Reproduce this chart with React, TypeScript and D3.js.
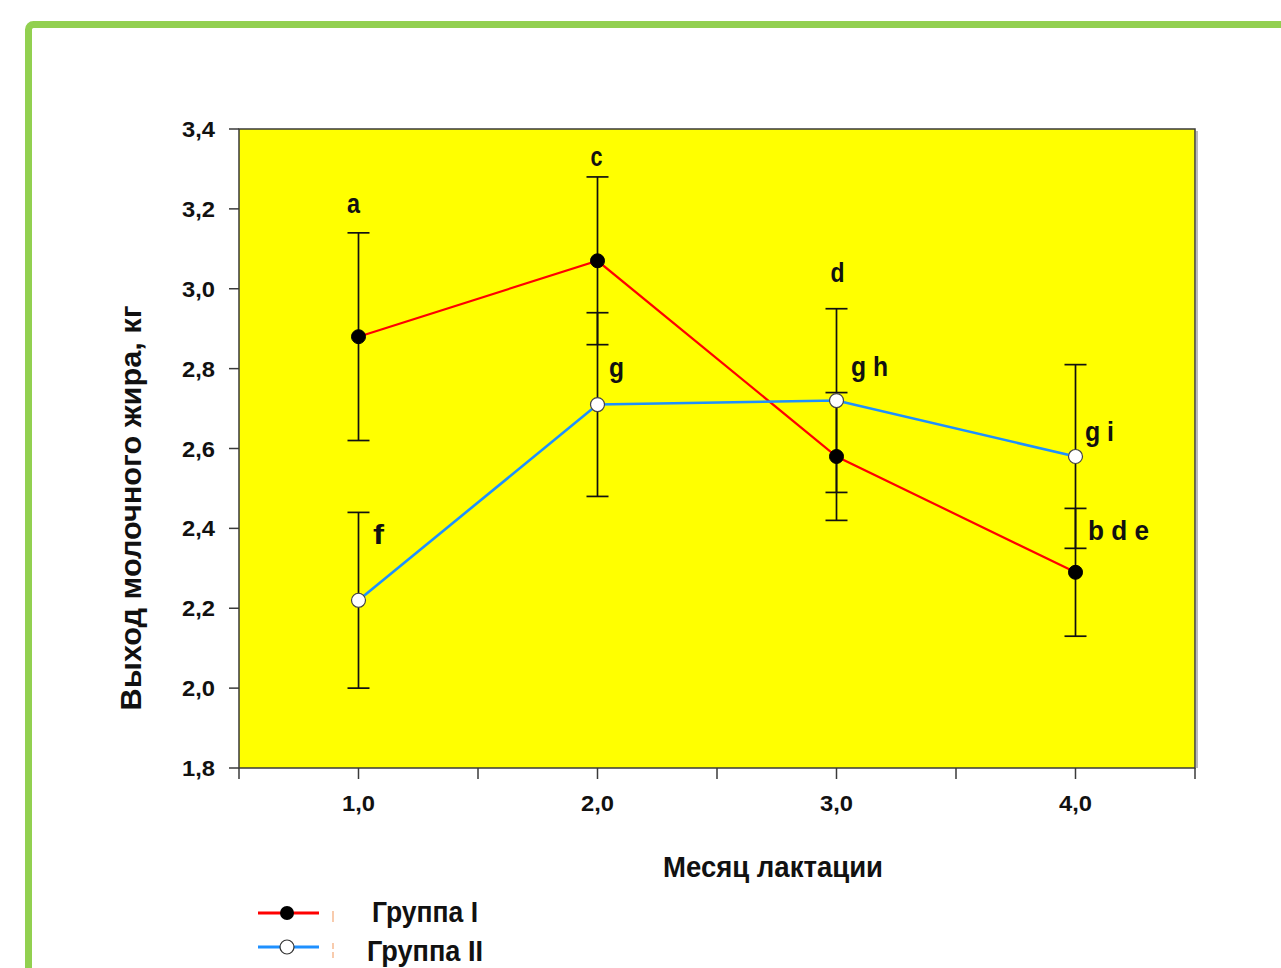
import React from "react";
import * as d3 from "d3";

const months = [1, 2, 3, 4];
const group1 = [2.88, 3.07, 2.58, 2.29];
const group1Err = [0.26, 0.21, 0.16, 0.16];
const group2 = [2.22, 2.71, 2.72, 2.58];
const group2Err = [0.22, 0.23, 0.23, 0.23];
const yTicks = [1.8, 2.0, 2.2, 2.4, 2.6, 2.8, 3.0, 3.2, 3.4];
const xMajorTicks = [1, 2, 3, 4];
const xAllTicks = [0.5, 1, 1.5, 2, 2.5, 3, 3.5, 4, 4.5];
const sigLetters = ["a", "c", "d", "b d e", "f", "g", "g h", "g i"];
const sigMonths = [1, 2, 3, 4, 1, 2, 3, 4];
const seriesNames = ["Группа I", "Группа II"];
const yTitle = "Выход молочного жира, кг";
const xTitle = "Месяц лактации";

const fmt = (v: number) => d3.format(".1f")(v).replace(".", ",");

export default function App() {
  const W = 1281, H = 968;
  const x = d3.scaleLinear().domain([0.5, 4.5]).range([239, 1195]);
  const y = d3.scaleLinear().domain([1.8, 3.4]).range([768, 129]);
  const line = d3.line<number>().x((_, i) => x(months[i])).y((d) => y(d));
  const font = "'Liberation Sans', Arial, sans-serif";
  // label placement offsets (px) relative to the month position / point
  const sigPos = [
    { dx: -5, ref: () => y(group1[0] + group1Err[0]) - 20 },
    { dx: -1, ref: () => y(group1[1] + group1Err[1]) - 11 },
    { dx: 1, ref: () => y(group2[2] + group2Err[2]) - 27 },
    { dx: 43, ref: () => y(group2[3] - group2Err[3]) - 8 },
    { dx: 20, ref: () => y(group2[0] + group2Err[0]) + 32 },
    { dx: 19, ref: () => y(group2[1]) - 28 },
    { dx: 33, ref: () => y(group2[2]) - 25 },
    { dx: 24, ref: () => y(group2[3]) - 15 },
  ];
  const sigWidths = [13, 12, 14, 61, 11, 15, 37, 29];

  const errBars = (vals: number[], errs: number[]) =>
    vals.map((v, i) => {
      const cx = x(months[i]);
      const t = y(v + errs[i]);
      const b = y(v - errs[i]);
      return (
        <g key={i} stroke="#111" strokeWidth={1.7}>
          <line x1={cx} x2={cx} y1={t} y2={b} />
          <line x1={cx - 11} x2={cx + 11} y1={t} y2={t} />
          <line x1={cx - 11} x2={cx + 11} y1={b} y2={b} />
        </g>
      );
    });

  return (
    <svg
      width={W}
      height={H}
      style={{ position: "absolute", left: 0, top: 0, display: "block", background: "#fff" }}
    >
      <rect x={0} y={0} width={W} height={H} fill="#fff" />
      {/* green frame */}
      <rect x={28.5} y={24.5} width={1400} height={1100} rx={5} fill="none" stroke="#92D050" strokeWidth={7} />

      {/* plot area */}
      <rect x={x(0.5)} y={y(3.4)} width={x(4.5) - x(0.5)} height={y(1.8) - y(3.4)} fill="#FFFF00" />
      <line x1={x(4.5) + 2} x2={x(4.5) + 2} y1={y(3.4) + 2} y2={y(1.8)} stroke="#bbb" strokeWidth={2} />
      <rect x={x(0.5)} y={y(3.4)} width={x(4.5) - x(0.5)} height={y(1.8) - y(3.4)} fill="none" stroke="#3a3a3a" strokeWidth={1.5} />

      {/* y axis */}
      {yTicks.map((t) => (
        <g key={t}>
          <line x1={x(0.5) - 10} x2={x(0.5)} y1={y(t)} y2={y(t)} stroke="#3a3a3a" strokeWidth={1.5} />
          <text x={215} y={y(t) + 8} textAnchor="end" fontFamily={font} fontWeight="bold" fontSize={22} fill="#111"
            textLength={33} lengthAdjust="spacingAndGlyphs">
            {fmt(t)}
          </text>
        </g>
      ))}
      {/* x axis */}
      {xAllTicks.map((t) => (
        <line key={t} x1={x(t)} x2={x(t)} y1={y(1.8)} y2={y(1.8) + 11} stroke="#3a3a3a" strokeWidth={1.5} />
      ))}
      {xMajorTicks.map((t) => (
        <text key={t} x={x(t)} y={811} textAnchor="middle" fontFamily={font} fontWeight="bold" fontSize={22} fill="#111"
          textLength={33} lengthAdjust="spacingAndGlyphs">
          {fmt(t)}
        </text>
      ))}

      {/* titles */}
      <text x={773} y={877} textAnchor="middle" fontFamily={font} fontWeight="bold" fontSize={30} fill="#111"
        textLength={220} lengthAdjust="spacingAndGlyphs">
        {xTitle}
      </text>
      <text transform="translate(141,508) rotate(-90)" textAnchor="middle" fontFamily={font} fontWeight="bold" fontSize={30} fill="#111"
        textLength={405} lengthAdjust="spacingAndGlyphs">
        {yTitle}
      </text>

      {/* lines */}
      <path d={line(group1) || ""} fill="none" stroke="#FF0000" strokeWidth={2.2} />
      <path d={line(group2) || ""} fill="none" stroke="#1E90FF" strokeWidth={2.6} />

      {/* error bars */}
      {errBars(group1, group1Err)}
      {errBars(group2, group2Err)}

      {/* markers */}
      {group1.map((v, i) => (
        <circle key={"a" + i} cx={x(months[i])} cy={y(v)} r={7} fill="#000" stroke="#000" strokeWidth={1} />
      ))}
      {group2.map((v, i) => (
        <circle key={"b" + i} cx={x(months[i])} cy={y(v)} r={7} fill="#fff" stroke="#444" strokeWidth={1.2} />
      ))}

      {/* significance letters */}
      {sigLetters.map((s, i) => (
        <text key={s + i} x={x(sigMonths[i]) + sigPos[i].dx} y={sigPos[i].ref()} textAnchor="middle"
          fontFamily={font} fontWeight="bold" fontSize={28} fill="#111"
          textLength={sigWidths[i]} lengthAdjust="spacingAndGlyphs">
          {s}
        </text>
      ))}

      {/* legend */}
      <line x1={258} x2={319} y1={913} y2={913} stroke="#FF0000" strokeWidth={3} />
      <circle cx={287} cy={913} r={7} fill="#000" />
      <line x1={258} x2={319} y1={947} y2={947} stroke="#1E90FF" strokeWidth={3} />
      <circle cx={287} cy={947} r={7} fill="#fff" stroke="#333" strokeWidth={1.2} />
      <line x1={333} x2={333} y1={911} y2={922} stroke="#F8CBAD" strokeWidth={2} />
      <line x1={333} x2={333} y1={943} y2={958} stroke="#F8CBAD" strokeWidth={2} strokeDasharray="6 3" />
      <text x={372} y={922} fontFamily={font} fontWeight="bold" fontSize={29} fill="#111" textLength={106} lengthAdjust="spacingAndGlyphs">
        {seriesNames[0]}
      </text>
      <text x={367} y={961} fontFamily={font} fontWeight="bold" fontSize={29} fill="#111" textLength={116} lengthAdjust="spacingAndGlyphs">
        {seriesNames[1]}
      </text>
    </svg>
  );
}
